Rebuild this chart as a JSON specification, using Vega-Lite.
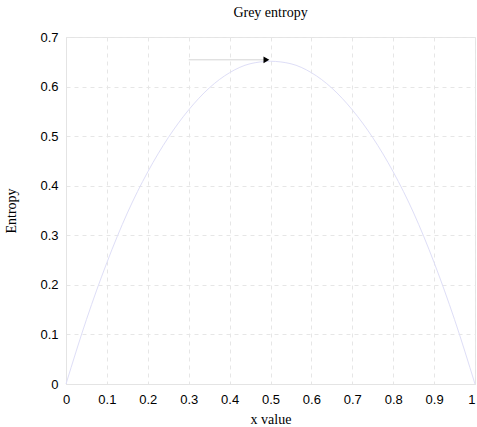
{
  "$schema": "https://vega.github.io/schema/vega-lite/v6.json",
  "autosize": {"type": "none"},
  "padding": {"left": 66, "top": 37, "right": 2, "bottom": 43},
  "width": 409,
  "height": 347,
  "background": "white",
  "title": {
    "text": "Grey entropy",
    "font": "Liberation Serif",
    "fontSize": 14,
    "fontWeight": "normal",
    "color": "#000000",
    "anchor": "middle",
    "offset": 11
  },
  "config": {
    "view": {"stroke": "#e4e4e4", "strokeWidth": 1},
    "axis": {
      "labelFont": "Liberation Sans",
      "labelFontSize": 13,
      "labelColor": "#000000",
      "titleFont": "Liberation Serif",
      "titleFontSize": 14,
      "titleFontWeight": "normal",
      "titleColor": "#000000",
      "domainColor": "#e4e4e4",
      "tickSize": 0,
      "gridColor": "#e6e6e6",
      "gridDash": [4, 4],
      "gridWidth": 1
    }
  },
  "layer": [
    {
      "data": {
        "values": [
          {"x": 0, "entropy": 0},
          {"x": 0.05, "entropy": 0.13},
          {"x": 0.1, "entropy": 0.245},
          {"x": 0.15, "entropy": 0.345},
          {"x": 0.2, "entropy": 0.428},
          {"x": 0.25, "entropy": 0.497},
          {"x": 0.3, "entropy": 0.553},
          {"x": 0.35, "entropy": 0.597},
          {"x": 0.4, "entropy": 0.628},
          {"x": 0.45, "entropy": 0.646},
          {"x": 0.5, "entropy": 0.651},
          {"x": 0.55, "entropy": 0.646},
          {"x": 0.6, "entropy": 0.628},
          {"x": 0.65, "entropy": 0.597},
          {"x": 0.7, "entropy": 0.553},
          {"x": 0.75, "entropy": 0.497},
          {"x": 0.8, "entropy": 0.428},
          {"x": 0.85, "entropy": 0.345},
          {"x": 0.9, "entropy": 0.245},
          {"x": 0.95, "entropy": 0.13},
          {"x": 1, "entropy": 0}
        ]
      },
      "mark": {"type": "line", "color": "#dedef7", "strokeWidth": 1, "interpolate": "monotone"},
      "encoding": {
        "x": {
          "field": "x", "type": "quantitative",
          "scale": {"domain": [0, 1], "nice": false, "zero": false},
          "axis": {
            "title": "x value",
            "values": [0, 0.1, 0.2, 0.3, 0.4, 0.5, 0.6, 0.7, 0.8, 0.9, 1],
            "format": "~g",
            "labelPadding": 9,
            "titlePadding": 6,
            "labelFlush": false,
            "labelAlign": {"condition": {"test": "datum.value == 1", "value": "right"}, "value": "center"}
          }
        },
        "y": {
          "field": "entropy", "type": "quantitative",
          "scale": {"domain": [0, 0.7], "nice": false},
          "axis": {
            "title": "Entropy",
            "values": [0, 0.1, 0.2, 0.3, 0.4, 0.5, 0.6, 0.7],
            "format": "~g",
            "labelPadding": 8,
            "titlePadding": 21
          }
        }
      }
    },
    {
      "data": {"values": [{"x_start": 0.3, "x_end": 0.49, "y": 0.654}]},
      "mark": {"type": "rule", "color": "#d4d4d4", "strokeWidth": 1},
      "encoding": {
        "x": {"field": "x_start", "type": "quantitative"},
        "x2": {"field": "x_end"},
        "y": {"field": "y", "type": "quantitative"}
      }
    },
    {
      "data": {"values": [{"x_head": 0.49, "y": 0.654}]},
      "mark": {"type": "point", "shape": "triangle-right", "filled": true, "color": "#000000", "opacity": 1, "size": 45},
      "encoding": {
        "x": {"field": "x_head", "type": "quantitative"},
        "y": {"field": "y", "type": "quantitative"}
      }
    }
  ]
}
